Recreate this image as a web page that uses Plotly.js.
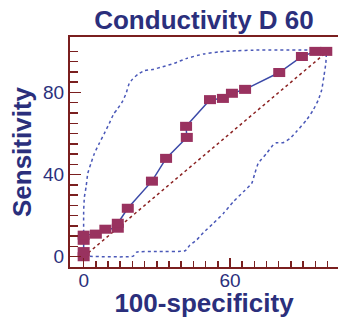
<!DOCTYPE html>
<html><head><meta charset="utf-8">
<script src="https://cdn.plot.ly/plotly-3.0.1.min.js"></script>
<style>html,body{margin:0;padding:0;background:#fff;}</style>
</head><body><div id="chart" style="width:338px;height:318px;"></div>
<script>
const rocX = [0, 0, 0, 0, 5, 8.9, 14, 14, 18.1, 28, 33.8, 42.3, 42, 51.8, 57.1, 60.8, 66.2, 80.2, 89.5, 95, 99.5];
const rocY = [0, 2.5, 8, 10.5, 11, 13.4, 13.9, 16.3, 23.6, 36.8, 47.9, 58.1, 63.5, 76.5, 77.1, 79.6, 81.5, 89.7, 97.5, 100, 100];

const upperX = [0, 0, 0, 0.3, 1, 1.7, 3, 4.4, 6.4, 8.5, 10.5, 12.3, 14, 16, 17.4, 18.7, 20.1, 22.2, 24.9, 28.3, 32.4, 37.2, 42.3, 49.1, 55.9, 62.7, 69.5, 99.6];
const upperY = [0, 10, 22, 29, 34, 40.6, 45.5, 50.3, 55.2, 60.1, 64.9, 69.5, 72.2, 75.8, 79.5, 84.4, 86.5, 88.8, 90.6, 91.2, 92.5, 94.2, 96.6, 98.7, 99.8, 100.3, 100.6, 100.6];

const lowerX = [0, 20.3, 21.7, 30, 41.6, 43.6, 46.3, 49.1, 53.2, 57.3, 61.4, 65.5, 68.9, 70.2, 71.6, 75, 77.7, 79.1, 81.8, 84.6, 87.3, 91.4, 94.1, 96.2, 97.6, 98.5, 99.3, 99.6];
const lowerY = [0.3, 0.3, 2.2, 2.6, 2.9, 5.7, 8.1, 11.7, 16.3, 21.1, 26.8, 31.6, 35.7, 40.6, 45.5, 50.3, 54.4, 55.5, 55.5, 57.6, 61, 66.6, 71.4, 76.3, 81.2, 87.7, 94.2, 100.6];

const diagX = [0, 100];
const diagY = [0, 100];

const xTickVals = [0, 20, 40, 60, 80, 100];
const xTickText = ['0', '', '', '60', '', ''];
const yTickVals = [0, 20, 40, 60, 80, 100];
const yTickText = ['0', '', '40', '', '80', ''];
const minorTickVals = [0,5,10,15,20,25,30,35,40,45,50,55,60,65,70,75,80,85,90,95,100];

const navy = '#2b2f7c';
const axisRed = '#7a1f1f';
const markerColor = '#99325f';
const blueLine = '#3c4aa8';
const blueDot = '#4a58b8';
const redDot = '#8b2222';
const fontFam = '"Liberation Sans", Arial, sans-serif';

const traces = [
  {x: upperX, y: upperY, type: 'scatter', mode: 'lines', hoverinfo: 'skip',
   line: {color: blueDot, width: 1.5, dash: 'dot', shape: 'spline', smoothing: 0.5}},
  {x: lowerX, y: lowerY, type: 'scatter', mode: 'lines', hoverinfo: 'skip',
   line: {color: blueDot, width: 1.5, dash: 'dot', shape: 'spline', smoothing: 0.5}},
  {x: diagX, y: diagY, type: 'scatter', mode: 'lines', hoverinfo: 'skip',
   line: {color: redDot, width: 1.5, dash: 'dot'}},
  {x: rocX, y: rocY, type: 'scatter', mode: 'lines',
   line: {color: blueLine, width: 1.5}},
  {x: rocX, y: rocY, type: 'scatter', mode: 'markers',
   marker: {size: 1, opacity: 0, color: markerColor},
   error_y: {type: 'constant', value: 2.2, thickness: 12, width: 0, color: markerColor}}
];

const layout = {
  width: 338, height: 318,
  margin: {l: 70, r: 0, t: 37, b: 51},
  paper_bgcolor: '#ffffff', plot_bgcolor: '#ffffff',
  showlegend: false,
  font: {family: fontFam, color: navy},
  title: {text: '<b>Conductivity D 60</b>', font: {family: fontFam, size: 26, color: navy},
          x: 0.5, xref: 'paper', xanchor: 'center', y: 1 - 20.2/318, yref: 'container', yanchor: 'middle'},
  xaxis: {
    range: [-5.6, 104.3], showgrid: false, zeroline: false,
    showline: true, mirror: true, linecolor: axisRed, linewidth: 2,
    tickmode: 'array', tickvals: xTickVals, ticktext: xTickText,
    ticks: 'inside', ticklen: 9, tickwidth: 1.5, tickcolor: axisRed,
    minor: {tickmode: 'array', tickvals: minorTickVals, ticks: 'inside', ticklen: 6, tickwidth: 1.5, tickcolor: axisRed},
    tickfont: {family: fontFam, size: 19, color: navy},
    ticklabelstandoff: -5,
    title: {text: '<b>100-specificity</b>', font: {family: fontFam, size: 26, color: navy}, standoff: 0}
  },
  yaxis: {
    range: [-5.0, 107.0], showgrid: false, zeroline: false,
    showline: true, mirror: false, linecolor: axisRed, linewidth: 2,
    tickmode: 'array', tickvals: yTickVals, ticktext: yTickText,
    ticks: 'inside', ticklen: 11, tickwidth: 1.5, tickcolor: axisRed,
    minor: {tickmode: 'array', tickvals: minorTickVals, ticks: 'inside', ticklen: 8, tickwidth: 1.5, tickcolor: axisRed},
    tickfont: {family: fontFam, size: 19, color: navy},
    title: {text: '<b>Sensitivity</b>', font: {family: fontFam, size: 26, color: navy}, standoff: 4}
  }
};

Plotly.newPlot('chart', traces, layout, {staticPlot: true, displayModeBar: false});
</script>
</body></html>
